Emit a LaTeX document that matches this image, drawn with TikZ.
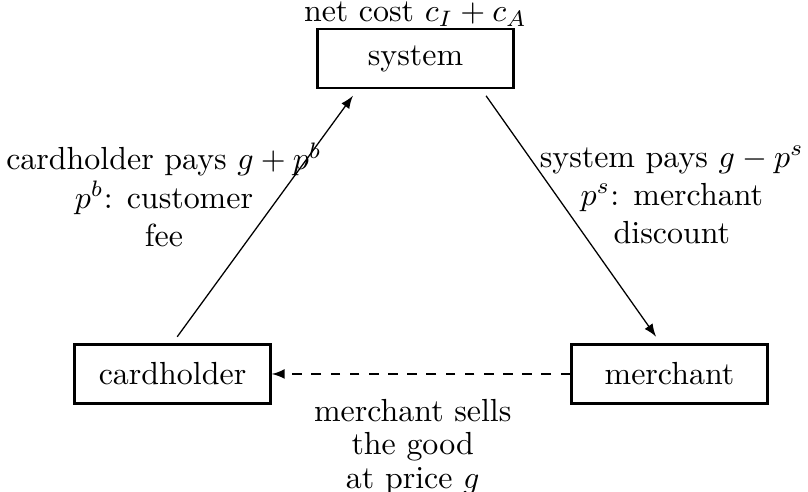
\documentclass[tikz,border=0pt]{standalone}
\usepackage{amsmath}
\usepackage{amssymb}
\usetikzlibrary{positioning}
\def\PayHeight{3.47cm}
\def\NoteHeight{1.50cm}

\begin{document}
\begin{tikzpicture}[
		party/.style={draw,thick,minimum width=2.156cm,minimum height=0.649cm},
		flow/.style={-latex,shorten >=2.5pt,shorten <=2.5pt},
		note/.style={align=center}]
	\useasboundingbox (-4.571,0.644) rectangle (4.318,-4.758);
	% the three parties
	\node[party] (sys) at (0,0) {system};
	\node[above=0pt of sys,inner sep=0.3pt] (cost) {net cost $c_I+c_A$};
	\node[party,on grid,below left=\PayHeight and 2.673cm of sys] (card) {cardholder};
	\node[party,on grid,below right=\PayHeight and 2.794cm of sys] (merch) {merchant};
	% 
	\node[note,on grid,below left=\NoteHeight and 2.767cm of sys] (fee) {cardholder pays $g+p^b$\\ $p^b$: customer\\ fee};
	\node[note,on grid,below right=\NoteHeight and 2.82cm of sys] (disc) {system pays $g-p^s$\\ $p^s$: merchant\\ discount};
	\node[note,on grid,below left=4.27cm and 0.03cm of sys] (good) {merchant sells\\[-1.5pt] the good\\[-1.5pt] at price $g$};
	% payments
	\draw[flow] (card.north) -- (sys.208);
	\draw[flow] (sys.335) -- (merch.106);
	\draw[-latex,dashed] (merch) -- (card);
\end{tikzpicture}
\end{document}
